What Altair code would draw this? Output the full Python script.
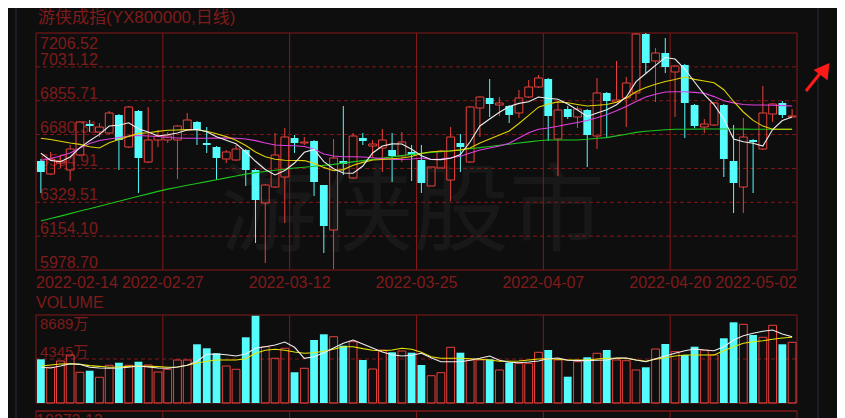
import altair as alt
import pandas as pd

title_text = "游侠成指(YX800000,日线)"
watermark_text = "游侠股市"

opens = [6543.4, 6476.1, 6533.0, 6496.8, 6574.5, 6735.1, 6693.6, 6688.4, 6781.7, 6615.9,
         6802.4, 6538.2, 6652.2, 6652.2, 6652.2, 6704.0, 6745.4, 6636.6, 6615.9, 6553.8,
         6548.6, 6600.4, 6496.8, 6325.8, 6408.7, 6460.5, 6662.6, 6636.6, 6647.0, 6419.1,
         6185.9, 6543.4, 6455.3, 6662.6, 6621.1, 6610.8, 6600.4, 6569.3, 6590.0, 6548.6,
         6413.9, 6507.1, 6445.0, 6636.6, 6538.2, 6818.0, 6869.8, 6833.5, 6828.3, 6792.1,
         6875.0, 6926.8, 6968.2, 6657.4, 6812.8, 6771.4, 6807.6, 6672.9, 6895.7, 6849.1,
         6869.8, 6895.7, 7201.4, 7061.5, 7102.9, 7004.5, 7040.8, 6833.5, 6719.5, 6729.9,
         6833.5, 6543.4, 6408.7, 6652.2, 6605.6, 6786.9, 6843.9, 6771.4]
highs = [6553.8, 6590.0, 6574.5, 6626.3, 6750.6, 6755.8, 6740.2, 6802.4, 6786.9, 6828.3,
         6807.6, 6823.2, 6704.0, 6693.6, 6729.9, 6792.1, 6750.6, 6719.5, 6621.1, 6600.4,
         6626.3, 6605.6, 6502.0, 6424.3, 6688.4, 6714.3, 6678.1, 6667.7, 6652.2, 6419.1,
         6657.4, 6828.3, 6688.4, 6688.4, 6652.2, 6709.2, 6688.4, 6693.6, 6626.3, 6626.3,
         6512.3, 6600.4, 6719.5, 6683.3, 6828.3, 6880.2, 6968.2, 6875.0, 6833.5, 6911.2,
         6963.0, 6988.9, 6973.4, 6854.3, 6828.3, 6828.3, 6812.8, 6973.4, 6900.9, 7061.5,
         6978.6, 7206.5, 7206.5, 7128.8, 7180.6, 7040.8, 7046.0, 6838.7, 6761.0, 6849.1,
         6838.7, 6729.9, 6766.2, 6657.4, 6932.0, 6843.9, 6854.3, 6812.8]
lows = [6377.6, 6470.9, 6507.1, 6439.8, 6569.3, 6693.6, 6667.7, 6683.3, 6496.8, 6610.8,
        6377.6, 6533.0, 6615.9, 6636.6, 6450.1, 6698.8, 6626.3, 6584.9, 6445.0, 6533.0,
        6543.4, 6413.9, 6118.6, 6015.0, 6403.5, 6222.2, 6584.9, 6626.3, 6362.1, 6066.8,
        5983.0, 6470.9, 6450.1, 6626.3, 6564.1, 6486.4, 6434.6, 6538.2, 6439.8, 6377.6,
        6413.9, 6507.1, 6336.2, 6486.4, 6533.0, 6667.7, 6771.4, 6776.5, 6740.2, 6766.2,
        6869.8, 6921.6, 6647.0, 6465.7, 6761.0, 6714.4, 6512.3, 6605.6, 6662.6, 6849.1,
        6719.5, 6859.4, 6999.3, 6849.1, 6999.3, 6771.4, 6662.6, 6714.4, 6688.4, 6724.7,
        6460.5, 6274.0, 6274.0, 6377.6, 6600.4, 6745.4, 6766.2, 6771.4]
closes = [6486.4, 6553.8, 6543.4, 6605.6, 6745.4, 6724.7, 6719.5, 6792.1, 6652.2, 6823.2,
          6558.9, 6652.2, 6672.9, 6672.9, 6724.7, 6755.8, 6704.0, 6626.3, 6558.9, 6590.0,
          6605.6, 6496.8, 6341.4, 6419.1, 6574.5, 6667.7, 6636.6, 6641.8, 6434.6, 6206.7,
          6558.9, 6527.8, 6672.9, 6647.0, 6631.5, 6652.2, 6569.3, 6641.8, 6574.5, 6429.4,
          6512.3, 6595.2, 6667.7, 6615.9, 6823.2, 6875.0, 6838.7, 6843.9, 6781.7, 6869.8,
          6926.8, 6973.4, 6776.5, 6807.6, 6771.4, 6812.8, 6678.1, 6895.7, 6854.3, 6859.4,
          6947.5, 7201.4, 7051.1, 7102.9, 7030.4, 7035.6, 6843.9, 6724.7, 6735.1, 6843.9,
          6553.8, 6429.4, 6667.7, 6641.8, 6792.1, 6838.7, 6781.7, 6776.5]

ma5 = [6583.3, 6546.5, 6539.8, 6564.1, 6612.8, 6648.6, 6681.2, 6724.7, 6728.9, 6741.3,
       6710.8, 6693.6, 6672.9, 6679.7, 6688.4, 6704.0, 6707.1, 6695.2, 6669.3, 6650.6,
       6633.0, 6590.5, 6541.9, 6499.4, 6470.9, 6494.2, 6533.0, 6588.5, 6603.5, 6539.8,
       6503.0, 6481.2, 6479.7, 6517.5, 6584.9, 6621.1, 6632.0, 6631.5, 6604.5, 6570.4,
       6551.2, 6550.7, 6557.9, 6576.6, 6642.9, 6724.7, 6761.0, 6795.7, 6825.8, 6841.8,
       6850.1, 6875.0, 6868.2, 6863.6, 6838.7, 6807.6, 6774.0, 6792.1, 6809.2, 6834.6,
       6875.0, 6954.2, 6996.7, 7038.7, 7079.6, 7071.8, 7020.0, 6952.7, 6886.9, 6835.1,
       6761.0, 6657.4, 6643.4, 6635.1, 6621.1, 6706.6, 6753.2, 6771.4]
ma10 = [6661.0, 6654.8, 6645.5, 6636.7, 6629.4, 6617.0, 6610.8, 6638.2, 6654.8, 6670.9,
        6686.4, 6689.5, 6696.8, 6702.5, 6704.0, 6706.1, 6705.0, 6697.8, 6684.8, 6669.8,
        6651.2, 6623.2, 6590.0, 6565.2, 6552.7, 6547.0, 6546.0, 6545.5, 6531.0, 6510.3,
        6493.2, 6498.8, 6521.1, 6536.2, 6548.6, 6551.2, 6554.8, 6558.9, 6566.7, 6582.3,
        6591.1, 6593.7, 6595.2, 6600.9, 6610.8, 6636.7, 6657.4, 6678.1, 6698.8, 6737.7,
        6779.7, 6822.1, 6838.7, 6849.6, 6844.9, 6836.1, 6828.3, 6832.0, 6836.1, 6847.5,
        6869.8, 6902.4, 6923.7, 6941.3, 6955.3, 6965.6, 6978.6, 6966.2, 6957.9, 6948.5,
        6912.8, 6851.7, 6797.3, 6753.8, 6724.2, 6707.6, 6707.6, 6707.6]
ma20 = [6546.0, 6556.4, 6569.3, 6584.9, 6610.8, 6634.1, 6649.6, 6657.4, 6665.2, 6672.9,
        6675.5, 6672.9, 6670.3, 6665.2, 6662.6, 6661.0, 6661.0, 6661.0, 6662.0, 6663.0,
        6661.5, 6657.4, 6649.1, 6636.7, 6626.3, 6623.7, 6622.2, 6618.5, 6604.0, 6579.7,
        6569.3, 6565.7, 6565.7, 6564.1, 6560.0, 6555.8, 6551.7, 6551.2, 6553.8, 6558.9,
        6551.2, 6553.8, 6560.0, 6567.8, 6584.9, 6600.4, 6610.8, 6621.1, 6635.1, 6662.6,
        6689.5, 6707.6, 6714.4, 6723.2, 6733.5, 6742.9, 6753.2, 6767.7, 6783.3, 6803.5,
        6825.8, 6851.1, 6875.0, 6889.5, 6900.9, 6902.4, 6902.4, 6898.8, 6894.7, 6877.0,
        6855.8, 6844.4, 6836.1, 6833.5, 6833.5, 6832.0, 6830.4, 6828.3]
ma60 = [6232.6, 6245.5, 6257.9, 6270.9, 6283.9, 6296.3, 6309.2, 6322.2, 6334.6, 6347.6,
        6360.5, 6373.0, 6385.9, 6397.8, 6407.7, 6417.5, 6426.8, 6436.7, 6446.6, 6455.9,
        6465.7, 6475.5, 6483.3, 6489.0, 6495.2, 6500.9, 6507.1, 6511.3, 6516.0, 6520.6,
        6525.8, 6532.5, 6538.8, 6545.5, 6551.7, 6558.4, 6564.6, 6571.4, 6577.6, 6582.8,
        6587.4, 6591.6, 6596.2, 6600.4, 6606.6, 6612.8, 6618.5, 6624.7, 6630.4, 6636.7,
        6642.4, 6648.6, 6652.2, 6652.2, 6652.2, 6652.2, 6655.8, 6661.0, 6664.6, 6673.4,
        6682.2, 6691.6, 6697.3, 6701.4, 6705.6, 6707.6, 6708.1, 6708.6, 6709.1, 6709.1,
        6709.1, 6709.1, 6708.6, 6708.1, 6708.1, 6707.6, 6707.6, 6707.6]

volume = [4315, 3525, 4148, 4740, 3032, 3190, 2538, 3723, 3980, 3723,
          4078, 3753, 3061, 3328, 4246, 4246, 5797, 5402, 4908, 3654,
          3328, 6488, 8621, 5560, 4414, 5402, 3032, 3427, 6221, 6784,
          6547, 5658, 6053, 4246, 3358, 5234, 5007, 5135, 4967, 3753,
          2696, 2992, 5500, 4967, 4246, 4246, 4315, 3259, 3980, 3920,
          3920, 5007, 5234, 4246, 2597, 4078, 4513, 4908, 5234, 4246,
          4177, 3259, 3525, 5333, 5826, 5066, 4740, 5560, 5234, 4740,
          6389, 7969, 7772, 6715, 6488, 7673, 5797, 5994]
vma5 = [3525, 3456, 3654, 3881, 3818, 3525, 3456, 3427, 3456, 3525,
        3654, 3555, 3456, 3427, 3555, 3723, 4118, 4809, 4839, 4770,
        4641, 4839, 5402, 5560, 5728, 6024, 5500, 4414, 4572, 4967,
        5431, 5895, 6221, 5826, 5431, 5036, 4770, 4641, 4710, 4908,
        4473, 4078, 4078, 4078, 4216, 4414, 4641, 4216, 4019, 3980,
        4049, 4148, 4375, 4444, 4216, 4180, 4180, 4216, 4246, 4444,
        4444, 4246, 4078, 4375, 4641, 4908, 5165, 5333, 5234, 5165,
        5560, 6221, 6646, 6883, 7080, 7209, 6814, 6547]
vma10 = [3654, 3753, 3851, 3881, 3818, 3687, 3621, 3525, 3555, 3621,
         3654, 3621, 3588, 3525, 3555, 3723, 3950, 4118, 4246, 4246,
         4246, 4375, 4908, 5201, 5300, 5201, 5036, 4908, 4967, 5103,
         5300, 5560, 5560, 5366, 5201, 5165, 5234, 5402, 5300, 5007,
         4572, 4414, 4414, 4414, 4375, 4315, 4246, 4118, 4118, 4148,
         4246, 4345, 4375, 4315, 4246, 4246, 4246, 4345, 4414, 4414,
         4414, 4246, 4118, 4315, 4473, 4641, 4740, 4740, 4740, 4740,
         5165, 5560, 5895, 6053, 6152, 6290, 6419, 6488]

price_ticks = [7206.52, 7031.12, 6855.71, 6680.31, 6504.91, 6329.51, 6154.10, 5978.70]
price_tick_labels = ["7206.52", "7031.12", "6855.71", "6680.31", "6504.91", "6329.51", "6154.10", "5978.70"]
date_labels = ["2022-02-14", "2022-02-27", "2022-03-12", "2022-03-25", "2022-04-07", "2022-04-20", "2022-05-02"]
date_pos = [-0.5, 12.5, 25.5, 38.5, 51.5, 64.5, 77.5]
vol_ticks = [8689, 4345]
vol_tick_labels = ["8689万", "4345万"]
bottom_label = "10273.12"

n = len(opens)
df = pd.DataFrame({"i": list(range(n)), "open": opens, "high": highs, "low": lows, "close": closes,
                   "ma5": ma5, "ma10": ma10, "ma20": ma20, "ma60": ma60,
                   "vol": volume, "vma5": vma5, "vma10": vma10})

BG = "#0e0e0e"
GRID = "#841818"
TXT = "#7e1b1b"
RED = "#e8413c"
CYAN = "#54fcfc"
C5, C10, C20, C60 = "#eeeeee", "#e2d200", "#e040e0", "#1ec41e"
FONT = "Liberation Sans, Arial, Noto Sans CJK SC, sans-serif"

W, H = 761, 385
PH = 237
VT, VB = 282, 370
BT = 378

XS = alt.Scale(domain=[-0.5, n - 0.5], nice=False, zero=False)
PY = alt.Scale(domain=[price_ticks[-1], price_ticks[0]], range=[PH, 0], nice=False, zero=False)
VY = alt.Scale(domain=[0, vol_ticks[0]], range=[VB, VT], nice=False, zero=False)

def xq(f):
    return alt.X(f"{f}:Q", scale=XS, axis=None)

def py(f):
    return alt.Y(f"{f}:Q", scale=PY, axis=None)

def vy(f):
    return alt.Y(f"{f}:Q", scale=VY, axis=None)

layers = []

# watermark
wm = alt.Chart(pd.DataFrame({"t": [watermark_text]})).mark_text(
    fontSize=96, font=FONT, color="#181818", align="center", baseline="middle"
).encode(x=alt.value(377), y=alt.value(181), text="t:N")
layers.append(wm)

# frames
frame_df = pd.DataFrame({"k": [0]})
for (t, b) in [(0, PH), (VT, VB)]:
    layers.append(alt.Chart(frame_df).mark_rect(fillOpacity=0, stroke=GRID, strokeWidth=1).encode(
        x=alt.value(0), x2=alt.value(W), y=alt.value(t), y2=alt.value(b)))
layers.append(alt.Chart(frame_df).mark_rule(color=GRID, strokeWidth=1.5).encode(
    x=alt.value(0), x2=alt.value(W), y=alt.value(BT)))
layers.append(alt.Chart(frame_df).mark_rule(color=GRID).encode(
    x=alt.value(0), y=alt.value(BT), y2=alt.value(H)))
layers.append(alt.Chart(frame_df).mark_rule(color=GRID).encode(
    x=alt.value(W), y=alt.value(BT), y2=alt.value(H)))

# side panel lines
layers.append(alt.Chart(frame_df).mark_rule(color="#25303a").encode(
    x=alt.value(-20), y=alt.value(-25), y2=alt.value(H)))
layers.append(alt.Chart(frame_df).mark_rule(color="#25303a").encode(
    x=alt.value(782), y=alt.value(-25), y2=alt.value(H)))

# vertical grid
vg = pd.DataFrame({"p": date_pos[1:-1]})
for (t, b) in [(0, PH), (VT, VB), (BT, H)]:
    layers.append(alt.Chart(vg).mark_rule(color=GRID, strokeWidth=1).encode(
        x=xq("p"), y=alt.value(t), y2=alt.value(b)))

# horizontal dashed grid in price panel
hg = pd.DataFrame({"v": price_ticks[1:-1]})
layers.append(alt.Chart(hg).mark_rule(color=GRID, strokeDash=[4, 3], strokeWidth=1).encode(
    y=py("v"), x=alt.value(0), x2=alt.value(W)))
# dashed line in volume panel
vgl = pd.DataFrame({"v": vol_ticks[1:]})
layers.append(alt.Chart(vgl).mark_rule(color=GRID, strokeDash=[4, 3], strokeWidth=1).encode(
    y=vy("v"), x=alt.value(0), x2=alt.value(W)))

# price labels
pl = pd.DataFrame({"v": price_ticks, "t": price_tick_labels})
layers.append(alt.Chart(pl).transform_filter(f"datum.v < {price_ticks[0]}").mark_text(
    align="left", baseline="alphabetic", dx=4, dy=-2, fontSize=16, font=FONT, color=TXT
).encode(y=py("v"), x=alt.value(0), text="t:N"))
layers.append(alt.Chart(pl).transform_filter(f"datum.v >= {price_ticks[0]}").mark_text(
    align="left", baseline="top", dx=4, dy=3, fontSize=16, font=FONT, color=TXT
).encode(y=py("v"), x=alt.value(0), text="t:N"))

# volume labels
vl = pd.DataFrame({"v": vol_ticks, "t": vol_tick_labels})
layers.append(alt.Chart(vl).transform_filter(f"datum.v >= {vol_ticks[0]}").mark_text(
    align="left", baseline="top", dx=4, dy=2, fontSize=15, font=FONT, color=TXT
).encode(y=vy("v"), x=alt.value(0), text="t:N"))
layers.append(alt.Chart(vl).transform_filter(f"datum.v < {vol_ticks[0]}").mark_text(
    align="left", baseline="alphabetic", dx=4, dy=-2, fontSize=15, font=FONT, color=TXT
).encode(y=vy("v"), x=alt.value(0), text="t:N"))

# text: title, VOLUME, bottom label
layers.append(alt.Chart(pd.DataFrame({"t": [title_text]})).mark_text(
    align="left", baseline="middle", fontSize=17, font=FONT, color=TXT
).encode(x=alt.value(2), y=alt.value(-15), text="t:N"))
layers.append(alt.Chart(pd.DataFrame({"t": ["VOLUME"]})).mark_text(
    align="left", baseline="middle", fontSize=16, font=FONT, color=TXT
).encode(x=alt.value(0), y=alt.value(270), text="t:N"))
layers.append(alt.Chart(pd.DataFrame({"t": [bottom_label]})).mark_text(
    align="left", baseline="top", fontSize=16, font=FONT, color=TXT
).encode(x=alt.value(0), y=alt.value(BT + 2), text="t:N"))

# date labels
dl = pd.DataFrame({"p": date_pos, "t": date_labels, "k": list(range(len(date_pos)))})
for cond, al in [("datum.k == 0", "left"), (f"datum.k > 0 && datum.k < {len(date_pos) - 1}", "center"),
                 (f"datum.k == {len(date_pos) - 1}", "right")]:
    layers.append(alt.Chart(dl).transform_filter(cond).mark_text(
        align=al, baseline="middle", fontSize=16, font=FONT, color=TXT
    ).encode(x=xq("p"), y=alt.value(PH + 13), text="t:N"))

# candles
cd = alt.Chart(df).transform_calculate(
    x0="datum.i - 0.4", x1="datum.i + 0.4",
    top="max(datum.open, datum.close)", bot="min(datum.open, datum.close)", z="0")
updown = alt.condition("datum.close >= datum.open", alt.value(RED), alt.value(CYAN))
layers.append(cd.mark_rule(strokeWidth=1).encode(x=xq("i"), y=py("high"), y2="top:Q", color=updown))
layers.append(cd.mark_rule(strokeWidth=1).encode(x=xq("i"), y=py("bot"), y2="low:Q", color=updown))
layers.append(cd.transform_filter("datum.close >= datum.open").mark_rect(
    fillOpacity=0, stroke=RED, strokeWidth=1).encode(x=xq("x0"), x2="x1:Q", y=py("open"), y2="close:Q"))
layers.append(cd.transform_filter("datum.close < datum.open").mark_rect(
    color=CYAN).encode(x=xq("x0"), x2="x1:Q", y=py("open"), y2="close:Q"))

# moving averages
for f, c in [("ma60", C60), ("ma20", C20), ("ma10", C10), ("ma5", C5)]:
    layers.append(alt.Chart(df).mark_line(color=c, strokeWidth=1.1).encode(x=xq("i"), y=py(f)))

# volume bars
layers.append(cd.transform_filter("datum.close >= datum.open").mark_rect(
    fillOpacity=0, stroke=RED, strokeWidth=1).encode(x=xq("x0"), x2="x1:Q", y=vy("vol"), y2="z:Q"))
layers.append(cd.transform_filter("datum.close < datum.open").mark_rect(
    color=CYAN).encode(x=xq("x0"), x2="x1:Q", y=vy("vol"), y2="z:Q"))
for f, c in [("vma10", "#e6e600"), ("vma5", "#eeeeee")]:
    layers.append(alt.Chart(df).mark_line(color=c, strokeWidth=1.1).encode(x=xq("i"), y=vy(f)))

# arrow
arrow_df = pd.DataFrame({"k": [0]})
layers.append(alt.Chart(arrow_df).mark_rule(color="#ff1a1a", strokeWidth=3).encode(
    x=alt.value(770), y=alt.value(58), x2=alt.value(786), y2=alt.value(38)))
layers.append(alt.Chart(arrow_df).mark_point(shape="triangle-up", filled=True, color="#ff1a1a",
                                             opacity=1, size=300, angle=36).encode(
    x=alt.value(789), y=alt.value(36)))

chart = alt.layer(*layers).resolve_scale(y="independent").properties(
    width=W, height=H,
    padding={"left": 28, "top": 25, "right": 40, "bottom": 0},
    autosize=alt.AutoSizeParams(type="none"),
).configure(background=BG).configure_view(stroke=None)

chart.save("out.html", embed_options={"renderer": "svg", "actions": False})
